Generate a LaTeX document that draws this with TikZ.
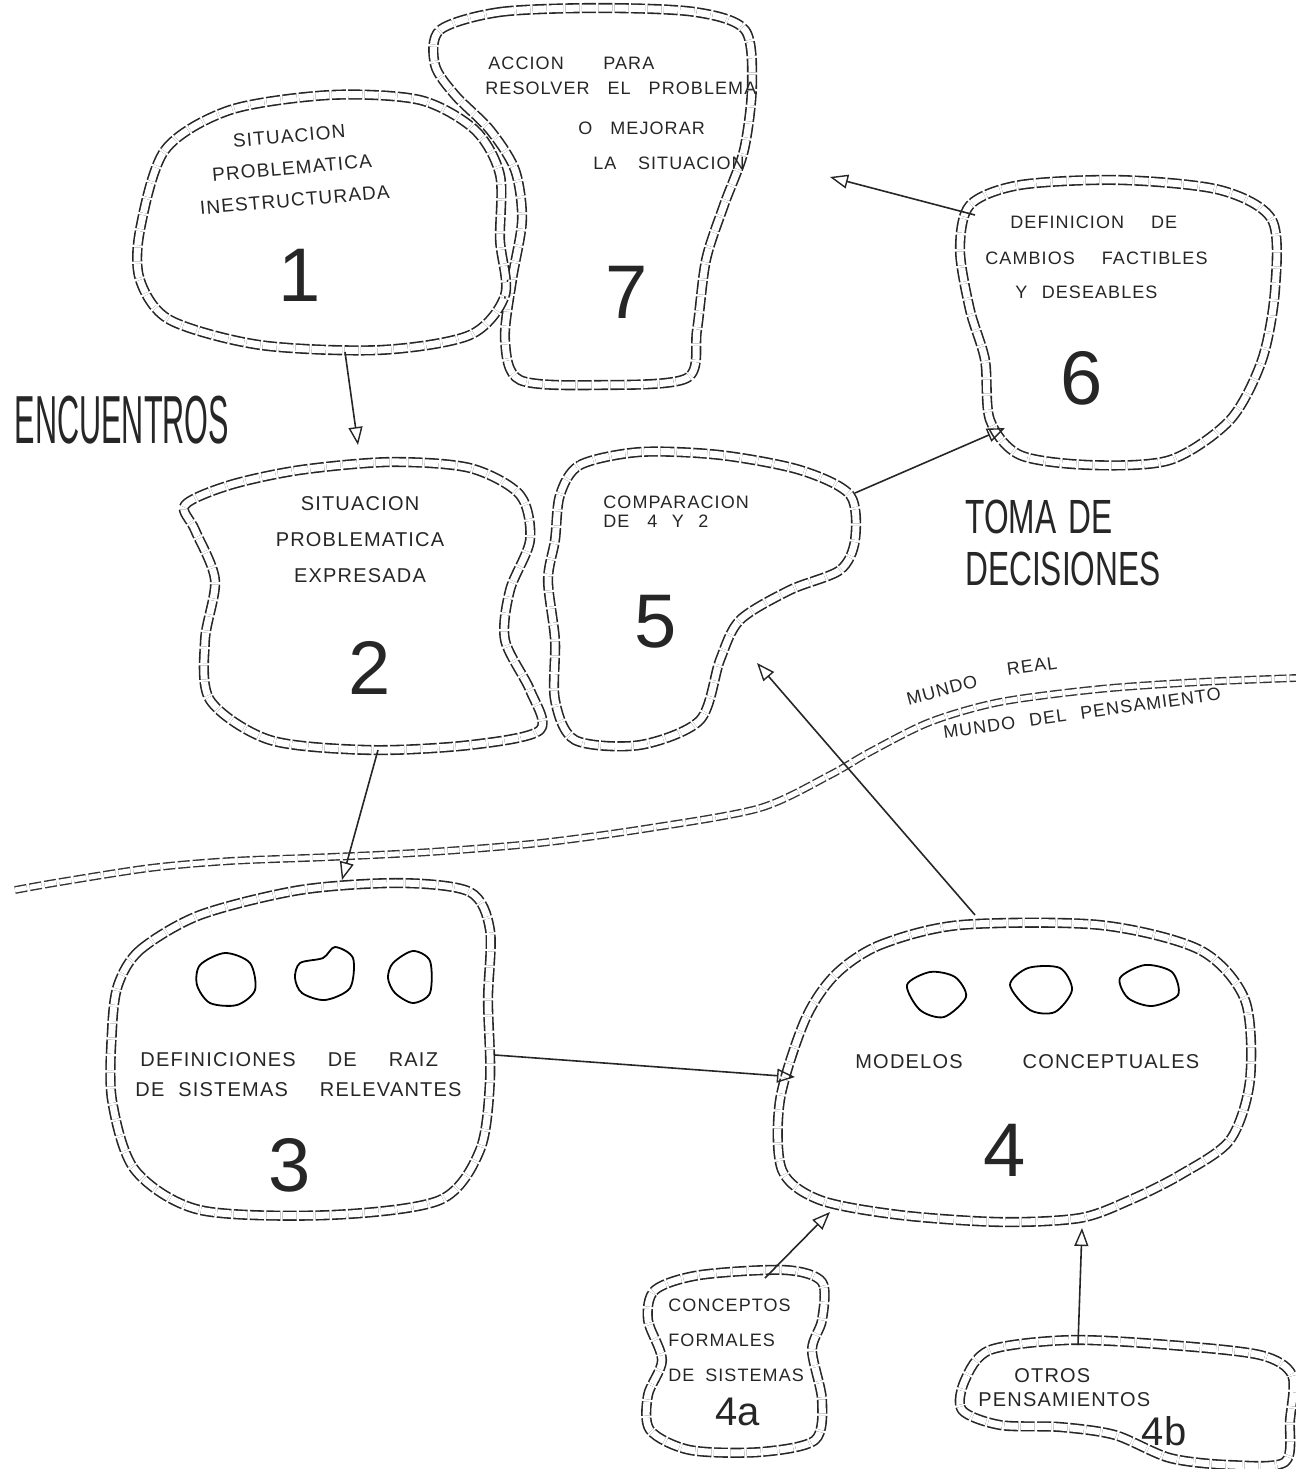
\documentclass[tikz,border=0pt]{standalone}
\usepackage{fontspec}
\setmainfont{Liberation Sans}
\newfontfamily\hand[LetterSpace=6]{Liberation Sans}
\usetikzlibrary{arrows.meta}
\begin{document}
\begin{tikzpicture}[x=0.5pt,y=-0.5pt,
  blob/.style={draw=black!85, line width=0.8pt, double=white, double distance=3.5pt, dash pattern=on 7pt off 1.2pt, line join=round},
  band/.style={draw=black!80, line width=0.7pt, double=white, double distance=2.5pt, dash pattern=on 6pt off 1.5pt},
  mini/.style={draw=black, line width=0.9pt},
  conn/.style={draw=black!85, line width=0.8pt, -{Triangle[open,length=9pt,width=7pt,line width=0.7pt]}},
  lbl/.style={font=\hand\fontsize{9}{9.5}\selectfont, align=center, inner sep=0pt, text=black!85},
  lblb/.style={font=\hand\fontsize{10}{11}\selectfont, inner sep=0pt, text=black!85},
  num/.style={font=\fontsize{38}{38}\selectfont, inner sep=0pt, text=black!85},
  small/.style={font=\fontsize{20}{20}\selectfont, inner sep=0pt, text=black!85},
  big/.style={font=\fontsize{34}{36}\selectfont, inner sep=0pt, text=black!85},
]
\useasboundingbox (0,0) rectangle (1296,1469);

% ---------- blob 7 ----------
\draw[blob] plot[smooth cycle] coordinates {(440,30) (500,12) (600,8) (695,12) (745,30) (752,85) (744,150) (724,205) (706,260) (697,330) (687,378) (600,385) (520,380) (505,340) (512,280) (522,220) (515,170) (490,130) (455,95) (435,65)};
% ---------- blob 1 ----------
\draw[blob] plot[smooth cycle] coordinates {(140,230) (165,150) (230,110) (330,95) (420,100) (475,130) (500,175) (500,240) (505,295) (470,335) (380,350) (260,345) (170,320) (140,280)};
% ---------- blob 6 ----------
\draw[blob] plot[smooth cycle] coordinates {(970,205) (1020,185) (1120,180) (1220,190) (1272,220) (1275,290) (1262,360) (1230,420) (1170,460) (1090,465) (1020,455) (990,420) (985,360) (970,310) (960,250)};
% ---------- blob 2 ----------
\draw[blob] plot[smooth cycle] coordinates {(185,505) (230,485) (300,470) (390,462) (470,468) (520,495) (530,540) (510,590) (505,640) (530,690) (540,730) (470,745) (370,750) (270,740) (210,700) (205,640) (215,580) (195,530)};
% ---------- blob 5 ----------
\draw[blob] plot[smooth cycle] coordinates {(560,495) (580,465) (640,452) (720,455) (800,470) (850,495) (855,540) (840,570) (790,590) (740,620) (720,660) (700,720) (640,745) (575,740) (555,700) (555,640) (548,580) (555,540)};
% ---------- blob 3 ----------
\draw[blob] plot[smooth cycle] coordinates {(118,985) (140,950) (200,915) (300,890) (400,883) (470,892) (490,930) (488,1000) (490,1080) (480,1150) (440,1200) (330,1215) (200,1210) (135,1170) (112,1100) (112,1030)};
% ---------- blob 4 ----------
\draw[blob] plot[smooth cycle] coordinates {(835,975) (880,945) (960,925) (1100,925) (1200,950) (1245,1000) (1250,1080) (1230,1140) (1180,1175) (1130,1200) (1080,1218) (1000,1222) (900,1215) (820,1200) (782,1170) (780,1100) (805,1020)};
% ---------- blob 4a ----------
\draw[blob] plot[smooth cycle] coordinates {(655,1290) (700,1275) (785,1270) (822,1282) (822,1320) (812,1350) (822,1400) (815,1440) (760,1452) (690,1450) (650,1430) (648,1395) (662,1360) (648,1320)};
% ---------- blob 4b ----------
\draw[blob] plot[smooth cycle] coordinates {(965,1380) (990,1350) (1070,1340) (1170,1345) (1260,1355) (1292,1375) (1290,1420) (1285,1462) (1230,1465) (1170,1458) (1115,1435) (1060,1427) (1000,1425) (962,1410)};

% mini blobs in 3
\draw[mini] plot[smooth cycle] coordinates {(200,965) (225,953) (250,963) (255,990) (237,1005) (210,1003) (197,985)};
\draw[mini] plot[smooth cycle] coordinates {(300,963) (323,958) (335,947) (353,958) (350,988) (325,1000) (302,993) (295,978)};
\draw[mini] plot[smooth cycle] coordinates {(393,963) (413,951) (430,961) (430,993) (413,1003) (395,993) (388,978)};
% mini blobs in 4
\draw[mini] plot[smooth cycle] coordinates {(907,985) (930,972) (955,977) (966,997) (944,1017) (920,1010)};
\draw[mini] plot[smooth cycle] coordinates {(1010,985) (1028,968) (1060,968) (1072,990) (1055,1012) (1030,1010)};
\draw[mini] plot[smooth cycle] coordinates {(1120,978) (1145,965) (1172,972) (1178,995) (1152,1006) (1128,998)};

% dividing band
\draw[band] plot[smooth] coordinates {(15,890) (60,882) (150,868) (230,861) (330,857) (430,852) (540,843) (650,828) (760,808) (830,775) (870,752) (930,722) (1000,702) (1100,689) (1200,682) (1296,678)};

% ---------- texts ----------
\node[lbl, font=\hand\fontsize{9.5}{10}\selectfont, rotate=5] (t1) at (292,168) {SITUACION\\[6pt]PROBLEMATICA\\[6pt]INESTRUCTURADA};
\node[num] (n1) at (300,275) {1};
\node[lbl, align=left, anchor=west] (t7a) at (488,63) {ACCION\hspace{2.2em}PARA};
\node[lbl, anchor=west] (t7b) at (485,88) {RESOLVER\hspace{1em}EL\hspace{1em}PROBLEMA};
\node[lbl, anchor=west] (t7c) at (578,128) {O\hspace{1em}MEJORAR};
\node[lbl, anchor=west] (t7d) at (593,163) {LA\hspace{1.2em}SITUACION};
\node[num] (n7) at (627,292) {7};
\node[lbl, anchor=west] (t6a) at (1010,222) {DEFINICION\hspace{1.5em}DE};
\node[lbl, anchor=west] (t6b) at (985,258) {CAMBIOS\hspace{1.5em}FACTIBLES};
\node[lbl, anchor=west] (t6c) at (1015,292) {Y\hspace{0.8em}DESEABLES};
\node[num] (n6) at (1082,378) {6};
\node[lblb, align=center] (t2) at (360,540) {SITUACION\\[7pt]PROBLEMATICA\\[7pt]EXPRESADA};
\node[num] (n2) at (370,668) {2};
\node[lbl, align=left, anchor=west] (t5) at (603,512) {COMPARACION\\DE\hspace{1em}4\hspace{0.8em}Y\hspace{0.8em}2};
\node[num] (n5) at (656,622) {5};
\node[lblb, anchor=west] (t3a) at (140,1060) {DEFINICIONES\hspace{1.6em}DE\hspace{1.6em}RAIZ};
\node[lblb, anchor=west] (t3b) at (135,1090) {DE\hspace{0.7em}SISTEMAS\hspace{1.6em}RELEVANTES};
\node[num] (n3) at (290,1165) {3};
\node[lblb, anchor=west] (t4) at (855,1062) {MODELOS\hspace{3em}CONCEPTUALES};
\node[num] (n4) at (1005,1150) {4};
\node[lbl, anchor=west, align=left] (t4a) at (668,1340) {CONCEPTOS\\[8pt]FORMALES\\[8pt]DE\hspace{0.6em}SISTEMAS};
\node[small] (n4a) at (738,1412) {4a};
\node[lblb, anchor=west, align=left] (t4b) at (978,1388) {\hspace{1.8em}OTROS\\[1pt]PENSAMIENTOS};
\node[small] (n4b) at (1164,1431) {4b};

\node[big, xscale=0.45] (enc) at (122,420) {ENCUENTROS};
\node[font=\fontsize{24}{26}\selectfont, xscale=0.66, align=left, anchor=west, inner sep=0pt, text=black!85] (toma) at (965,543) {TOMA\hspace{0.4em}DE\\DECISIONES};
\node[lbl, rotate=15] (mr1) at (942,690) {MUNDO};
\node[lbl, rotate=8] (mr2) at (1032,666) {REAL};
\node[lbl, rotate=8] (mp) at (1082,713) {MUNDO\hspace{0.8em}DEL\hspace{0.8em}PENSAMIENTO};

% ---------- connector end points ----------
\coordinate (b1s) at (345,352);
\coordinate (b2n) at (358,445);
\coordinate (b2s) at (378,750);
\coordinate (b3n) at (342,880);
\coordinate (b3e) at (495,1055);
\coordinate (b4w) at (795,1077);
\coordinate (b4n) at (975,915);
\coordinate (b5s) at (757,663);
\coordinate (b5e) at (855,493);
\coordinate (b6w) at (1005,428);
\coordinate (b6n) at (975,215);
\coordinate (b7e) at (830,177);
\coordinate (b4an) at (765,1278);
\coordinate (b4s) at (830,1212);
\coordinate (b4bn) at (1078,1345);
\coordinate (b4sb) at (1082,1228);

\draw[conn] (b1s) -- (b2n);
\draw[conn] (b2s) -- (b3n);
\draw[conn] (b3e) -- (b4w);
\draw[conn] (b4n) -- (b5s);
\draw[conn] (b5e) -- (b6w);
\draw[conn] (b6n) -- (b7e);
\draw[conn] (b4an) -- (b4s);
\draw[conn] (b4bn) -- (b4sb);
\end{tikzpicture}
\end{document}
